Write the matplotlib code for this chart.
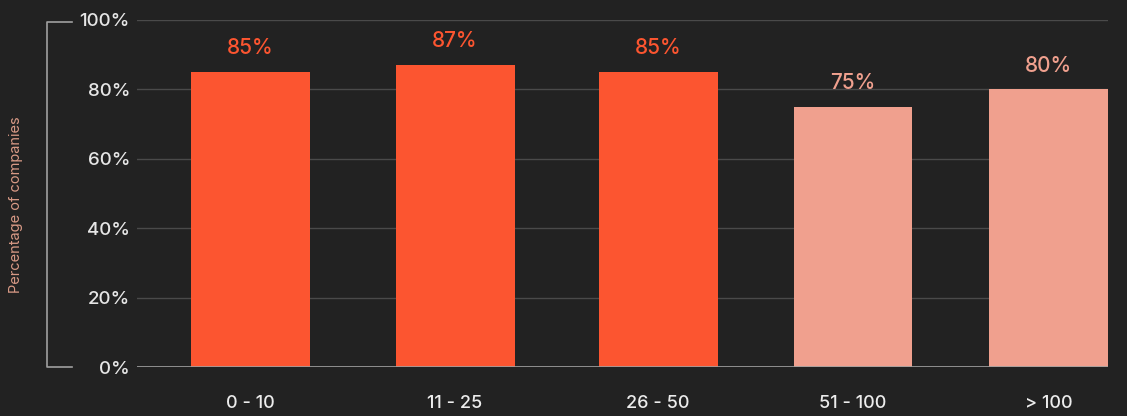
import matplotlib.pyplot as plt
from matplotlib.lines import Line2D

# Data
categories = ['0 - 10', '11 - 25', '26 - 50', '51 - 100', '> 100']
values = [85, 87, 85, 75, 80]
highlight = [True, True, True, False, False]
positions = [0, 1.025, 2.04, 3.015, 3.995]

bg = '#222222'
strong = '#fc5530'
light = '#f0a08e'
colors = [strong if h else light for h in highlight]

plt.rcParams['font.family'] = ['Inter', 'DejaVu Sans']

fig = plt.figure(figsize=(11.27, 4.16), dpi=100, facecolor=bg)
ax = fig.add_axes([137 / 1127, 1 - 367 / 416, (1108 - 137) / 1127, (367 - 20) / 416])
ax.set_facecolor(bg)

bars = ax.bar(positions, values, width=0.595, color=colors, zorder=2)

# value labels above bars
for xi, v, c in zip(positions, values, colors):
    ax.text(xi, v + 4, f'{v}%', ha='center', va='bottom', color=c,
            fontsize=15, fontweight='medium')

ax.set_xlim(-0.565, 4.29)
ax.set_ylim(0, 100)
ax.set_yticks([0, 20, 40, 60, 80, 100])
ax.set_yticklabels([f'{t}%' for t in [0, 20, 40, 60, 80, 100]])
ax.set_xticks(positions)
ax.set_xticklabels(categories)

ax.grid(axis='y', color='#4a4a4a', linewidth=1, zorder=1)
ax.axhline(0, color='#a0a0a0', linewidth=1.2, zorder=3)
for s in ax.spines.values():
    s.set_visible(False)
ax.tick_params(axis='y', length=0, pad=5, labelcolor='#e6e6e6', labelsize=13.5)
ax.tick_params(axis='x', length=0, pad=20, labelcolor='#ececec', labelsize=13)
for lbl in ax.get_xticklabels() + ax.get_yticklabels():
    lbl.set_fontweight('medium')

# left bracket
bx0, bx1 = 47 / 1127, 72 / 1127
ytop, ybot = 1 - 22 / 416, 1 - 367 / 416
fig.add_artist(Line2D([bx1, bx0, bx0, bx1], [ytop, ytop, ybot, ybot],
                      transform=fig.transFigure, color='#a0a0a0', linewidth=1.2))

fig.text(16 / 1127, 1 - 205 / 416, 'Percentage of companies', rotation=90,
         ha='center', va='center', color='#d99a86', fontsize=10.5)

plt.savefig('out.png', dpi=100, facecolor=bg)
